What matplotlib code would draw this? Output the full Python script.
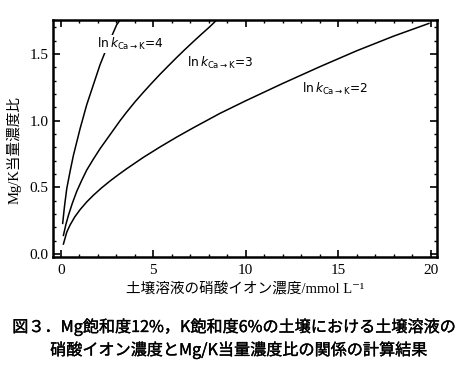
import matplotlib
matplotlib.use("Agg")
import matplotlib.pyplot as plt
import matplotlib.patheffects as pe
from matplotlib.ticker import MultipleLocator

# values
x_k2 = [0.14, 0.32, 0.50, 0.75, 1.04, 1.40, 1.76, 2.20, 2.66, 3.10, 3.56, 4.46,
        5.36, 6.26, 7.16, 8.60, 10.0, 12.0, 14.0, 16.0, 18.0, 19.9]
y_k2 = [0.075, 0.164, 0.218, 0.278, 0.333, 0.391, 0.441, 0.496, 0.548, 0.594, 0.640, 0.725,
        0.803, 0.877, 0.947, 1.055, 1.15, 1.28, 1.405, 1.525, 1.635, 1.73]

x_k3 = [0.14, 0.27, 0.41, 0.62, 0.86, 1.12, 1.40, 1.75, 2.12, 2.48, 2.84, 3.20,
        3.56, 4.00, 4.46, 4.90, 5.36, 5.80, 6.26, 6.70, 7.16, 7.60, 8.06, 8.42]
y_k3 = [0.14, 0.22, 0.29, 0.38, 0.47, 0.55, 0.63, 0.71, 0.79, 0.86, 0.93, 1.00,
        1.065, 1.14, 1.213, 1.28, 1.348, 1.41, 1.474, 1.533, 1.593, 1.649, 1.706, 1.755]

x_k4 = [0.10, 0.20, 0.32, 0.50, 0.68, 0.86, 1.04, 1.22, 1.40, 1.58, 1.76, 1.94,
        2.12, 2.35, 2.57, 2.80, 3.02, 3.20]
y_k4 = [0.23, 0.36, 0.49, 0.62, 0.74, 0.84, 0.94, 1.03, 1.12, 1.195, 1.27, 1.345,
        1.42, 1.50, 1.575, 1.65, 1.72, 1.755]

labels = [r"$\mathrm{ln}\,k_{\mathrm{Ca\rightarrow K}}$=4",
          r"$\mathrm{ln}\,k_{\mathrm{Ca\rightarrow K}}$=3",
          r"$\mathrm{ln}\,k_{\mathrm{Ca\rightarrow K}}$=2"]
label_pos = [(1.94, 1.575), (6.8, 1.43), (13.04, 1.24)]

xlabel = "土壌溶液の硝酸イオン濃度/mmol L⁻¹"
ylabel = "Mg/K当量濃度比"
caption1 = "図３．Mg飽和度12%，K飽和度6%の土壌における土壌溶液の"
caption2 = "硝酸イオン濃度とMg/K当量濃度比の関係の計算結果"

serif = ["Liberation Serif", "Noto Sans CJK JP", "DejaVu Serif"]
sans = ["Noto Sans CJK JP", "DejaVu Sans"]
plt.rcParams["mathtext.fontset"] = "dejavusans"

fig = plt.figure(figsize=(4.73, 3.72), dpi=100)
ax = fig.add_axes([0.111, 0.309, 0.813, 0.637])

for xs, ys in [(x_k2, y_k2), (x_k3, y_k3), (x_k4, y_k4)]:
    ax.plot(xs, ys, color="black", lw=1.1, solid_joinstyle="round")

for txt, (tx, ty) in zip(labels, label_pos):
    ax.text(tx, ty, txt, fontsize=8.7, ha="left", va="center", family="DejaVu Sans",
            bbox=dict(facecolor="white", edgecolor="none", pad=0.5))

ax.set_xlim(-0.45, 20.34)
ax.set_ylim(-0.0225, 1.755)
ax.xaxis.set_major_locator(MultipleLocator(5))
ax.xaxis.set_minor_locator(MultipleLocator(1))
ax.yaxis.set_major_locator(MultipleLocator(0.5))
ax.yaxis.set_minor_locator(MultipleLocator(0.1))
ax.yaxis.set_major_formatter(plt.FuncFormatter(lambda v, p: f"{v:.1f}"))
ax.tick_params(which="both", direction="in", top=True, right=True)
ax.tick_params(which="major", length=5, width=1.2, labelsize=11)
ax.tick_params(axis="x", which="major", pad=5)
ax.tick_params(axis="y", which="major", pad=3)
ax.tick_params(which="minor", length=2.5, width=1.0)
for lab in ax.get_xticklabels() + ax.get_yticklabels():
    lab.set_family(serif)
for sp in ax.spines.values():
    sp.set_linewidth(1.8)

ax.set_xlabel(xlabel, family=serif, fontsize=10.5, labelpad=4)
ax.set_ylabel(ylabel, family=serif, fontsize=10.5)
ax.yaxis.set_label_coords(-0.08, 0.45)

stroke = [pe.withStroke(linewidth=0.25, foreground="black")]
fig.text(0.026, 0.121, caption1, family=sans, fontsize=11.6,
         ha="left", va="center", path_effects=stroke)
fig.text(0.106, 0.059, caption2, family=sans, fontsize=11.6,
         ha="left", va="center", path_effects=stroke)

fig.savefig("out.png", dpi=100)
